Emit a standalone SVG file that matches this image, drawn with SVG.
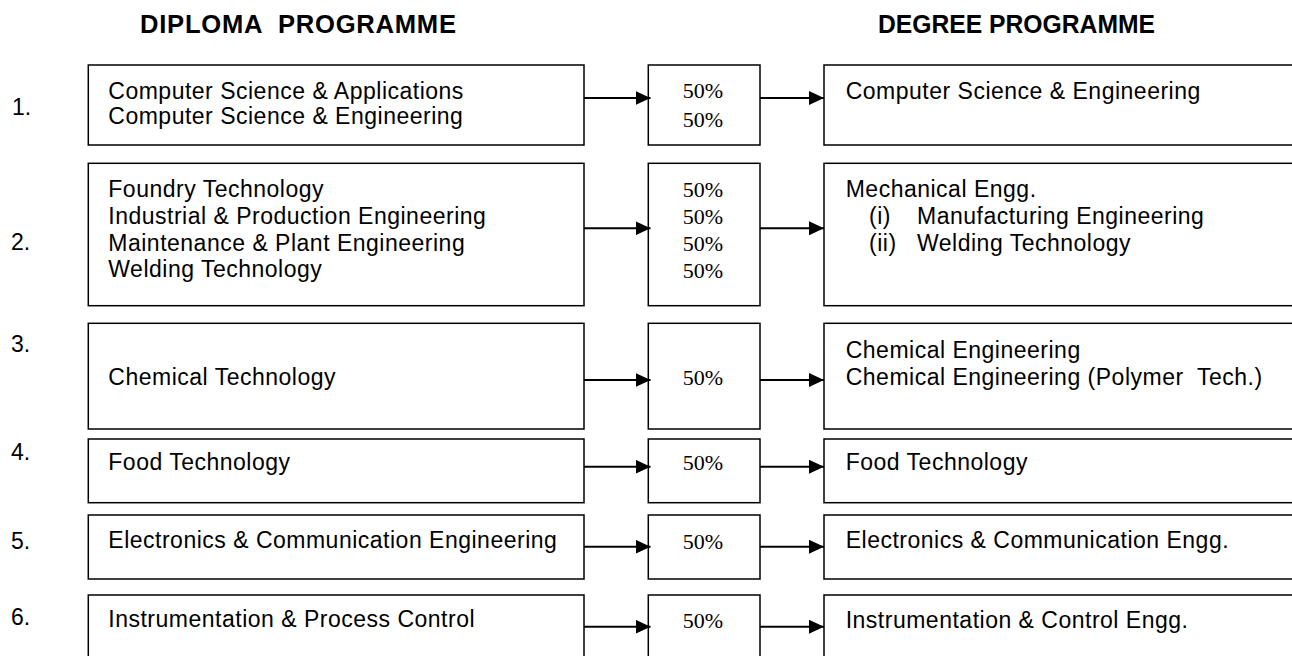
<svg xmlns="http://www.w3.org/2000/svg" width="1292" height="656" viewBox="0 0 1292 656">
  <style>
    .box { fill: #fff; stroke: #000; stroke-width: 1.5; }
    .t { font-family: "Liberation Sans", Arial, sans-serif; font-size: 23px; letter-spacing: 0.5px; fill: #000; }
    .num { font-family: "Liberation Sans", Arial, sans-serif; font-size: 23px; fill: #000; }
    .pct { font-family: "Liberation Serif", "Times New Roman", serif; font-size: 22px; fill: #000; text-anchor: middle; }
    .head { font-family: "Liberation Sans", Arial, sans-serif; font-size: 25.6px; font-weight: bold; fill: #000; }
    .arrow { stroke: #000; stroke-width: 2; fill: none; marker-end: url(#tip); }
  </style>
  <defs>
    <marker id="tip" markerUnits="userSpaceOnUse" markerWidth="15" markerHeight="14" refX="15" refY="7" orient="auto">
      <path d="M0,0 L15,7 L0,14 Z" fill="#000"/>
    </marker>
  </defs>
  <rect width="1292" height="656" fill="#fff"/>

  <!-- column headings -->
  <g id="headings">
    <text class="head" x="140" y="33.3" xml:space="preserve" textLength="316" lengthAdjust="spacing">DIPLOMA  PROGRAMME</text>
    <text class="head" x="878" y="33.3" textLength="277" lengthAdjust="spacingAndGlyphs">DEGREE PROGRAMME</text>
  </g>

  <!-- row numbers -->
  <g id="row-numbers">
    <text class="num" x="12" y="115">1.</text>
    <text class="num" x="11" y="250">2.</text>
    <text class="num" x="11" y="351.7">3.</text>
    <text class="num" x="11" y="460">4.</text>
    <text class="num" x="11" y="549">5.</text>
    <text class="num" x="11" y="625">6.</text>
  </g>

  <!-- row 1 -->
  <g id="diploma-1">
    <rect class="box" x="88.3" y="65" width="495.7" height="80"/>
    <text class="t" x="108.3" y="98.5">Computer Science &amp; Applications</text>
    <text class="t" x="108.3" y="124">Computer Science &amp; Engineering</text>
  </g>
  <g id="share-1">
    <rect class="box" x="648.3" y="65" width="111.7" height="80"/>
    <text class="pct" x="703" y="98.3">50%</text>
    <text class="pct" x="703" y="126.7">50%</text>
  </g>
  <g id="degree-1">
    <rect class="box" x="824" y="65" width="520" height="80"/>
    <text class="t" x="845.7" y="99">Computer Science &amp; Engineering</text>
  </g>

  <!-- row 2 -->
  <g id="diploma-2">
    <rect class="box" x="88.3" y="163.3" width="495.7" height="142.4"/>
    <text class="t" x="108.3" y="196.7">Foundry Technology</text>
    <text class="t" x="108.3" y="224">Industrial &amp; Production Engineering</text>
    <text class="t" x="108.3" y="250.5">Maintenance &amp; Plant Engineering</text>
    <text class="t" x="108.3" y="277.3">Welding Technology</text>
  </g>
  <g id="share-2">
    <rect class="box" x="648.3" y="163.3" width="111.7" height="142.4"/>
    <text class="pct" x="703" y="196.7">50%</text>
    <text class="pct" x="703" y="224">50%</text>
    <text class="pct" x="703" y="250.5">50%</text>
    <text class="pct" x="703" y="278.3">50%</text>
  </g>
  <g id="degree-2">
    <rect class="box" x="824" y="163.3" width="520" height="142.4"/>
    <text class="t" x="845.7" y="196.7">Mechanical Engg.</text>
    <text class="t" x="869" y="224">(i)</text>
    <text class="t" x="917" y="224">Manufacturing Engineering</text>
    <text class="t" x="869" y="250.5">(ii)</text>
    <text class="t" x="917" y="250.5">Welding Technology</text>
  </g>

  <!-- row 3 -->
  <g id="diploma-3">
    <rect class="box" x="88.3" y="323.3" width="495.7" height="105.7"/>
    <text class="t" x="108.3" y="385">Chemical Technology</text>
  </g>
  <g id="share-3">
    <rect class="box" x="648.3" y="323.3" width="111.7" height="105.7"/>
    <text class="pct" x="703" y="385">50%</text>
  </g>
  <g id="degree-3">
    <rect class="box" x="824" y="323.3" width="520" height="105.7"/>
    <text class="t" x="845.7" y="358.3">Chemical Engineering</text>
    <text class="t" x="845.7" y="385" xml:space="preserve">Chemical Engineering (Polymer  Tech.)</text>
  </g>

  <!-- row 4 -->
  <g id="diploma-4">
    <rect class="box" x="88.3" y="439" width="495.7" height="63.7"/>
    <text class="t" x="108.3" y="470">Food Technology</text>
  </g>
  <g id="share-4">
    <rect class="box" x="648.3" y="439" width="111.7" height="63.7"/>
    <text class="pct" x="703" y="470">50%</text>
  </g>
  <g id="degree-4">
    <rect class="box" x="824" y="439" width="520" height="63.7"/>
    <text class="t" x="845.7" y="470">Food Technology</text>
  </g>

  <!-- row 5 -->
  <g id="diploma-5">
    <rect class="box" x="88.3" y="515" width="495.7" height="64"/>
    <text class="t" x="108.3" y="547.7">Electronics &amp; Communication Engineering</text>
  </g>
  <g id="share-5">
    <rect class="box" x="648.3" y="515" width="111.7" height="64"/>
    <text class="pct" x="703" y="549">50%</text>
  </g>
  <g id="degree-5">
    <rect class="box" x="824" y="515" width="520" height="64"/>
    <text class="t" x="845.7" y="548">Electronics &amp; Communication Engg.</text>
  </g>

  <!-- row 6 (runs past the lower edge) -->
  <g id="diploma-6">
    <rect class="box" x="88.3" y="595" width="495.7" height="90"/>
    <text class="t" x="108.3" y="627">Instrumentation &amp; Process Control</text>
  </g>
  <g id="share-6">
    <rect class="box" x="648.3" y="595" width="111.7" height="90"/>
    <text class="pct" x="703" y="628">50%</text>
  </g>
  <g id="degree-6">
    <rect class="box" x="824" y="595" width="520" height="90"/>
    <text class="t" x="845.7" y="628">Instrumentation &amp; Control Engg.</text>
  </g>

  <!-- connectors -->
  <g id="connectors">
    <line class="arrow" x1="584" y1="98" x2="650.5" y2="98"/>
    <line class="arrow" x1="760" y1="98" x2="824" y2="98"/>
    <line class="arrow" x1="584" y1="228.3" x2="650.5" y2="228.3"/>
    <line class="arrow" x1="760" y1="228.3" x2="824" y2="228.3"/>
    <line class="arrow" x1="584" y1="380" x2="650.5" y2="380"/>
    <line class="arrow" x1="760" y1="380" x2="824" y2="380"/>
    <line class="arrow" x1="584" y1="466.7" x2="650.5" y2="466.7"/>
    <line class="arrow" x1="760" y1="466.7" x2="824" y2="466.7"/>
    <line class="arrow" x1="584" y1="546.7" x2="650.5" y2="546.7"/>
    <line class="arrow" x1="760" y1="546.7" x2="824" y2="546.7"/>
    <line class="arrow" x1="584" y1="626.7" x2="650.5" y2="626.7"/>
    <line class="arrow" x1="760" y1="626.7" x2="824" y2="626.7"/>
  </g>
</svg>
